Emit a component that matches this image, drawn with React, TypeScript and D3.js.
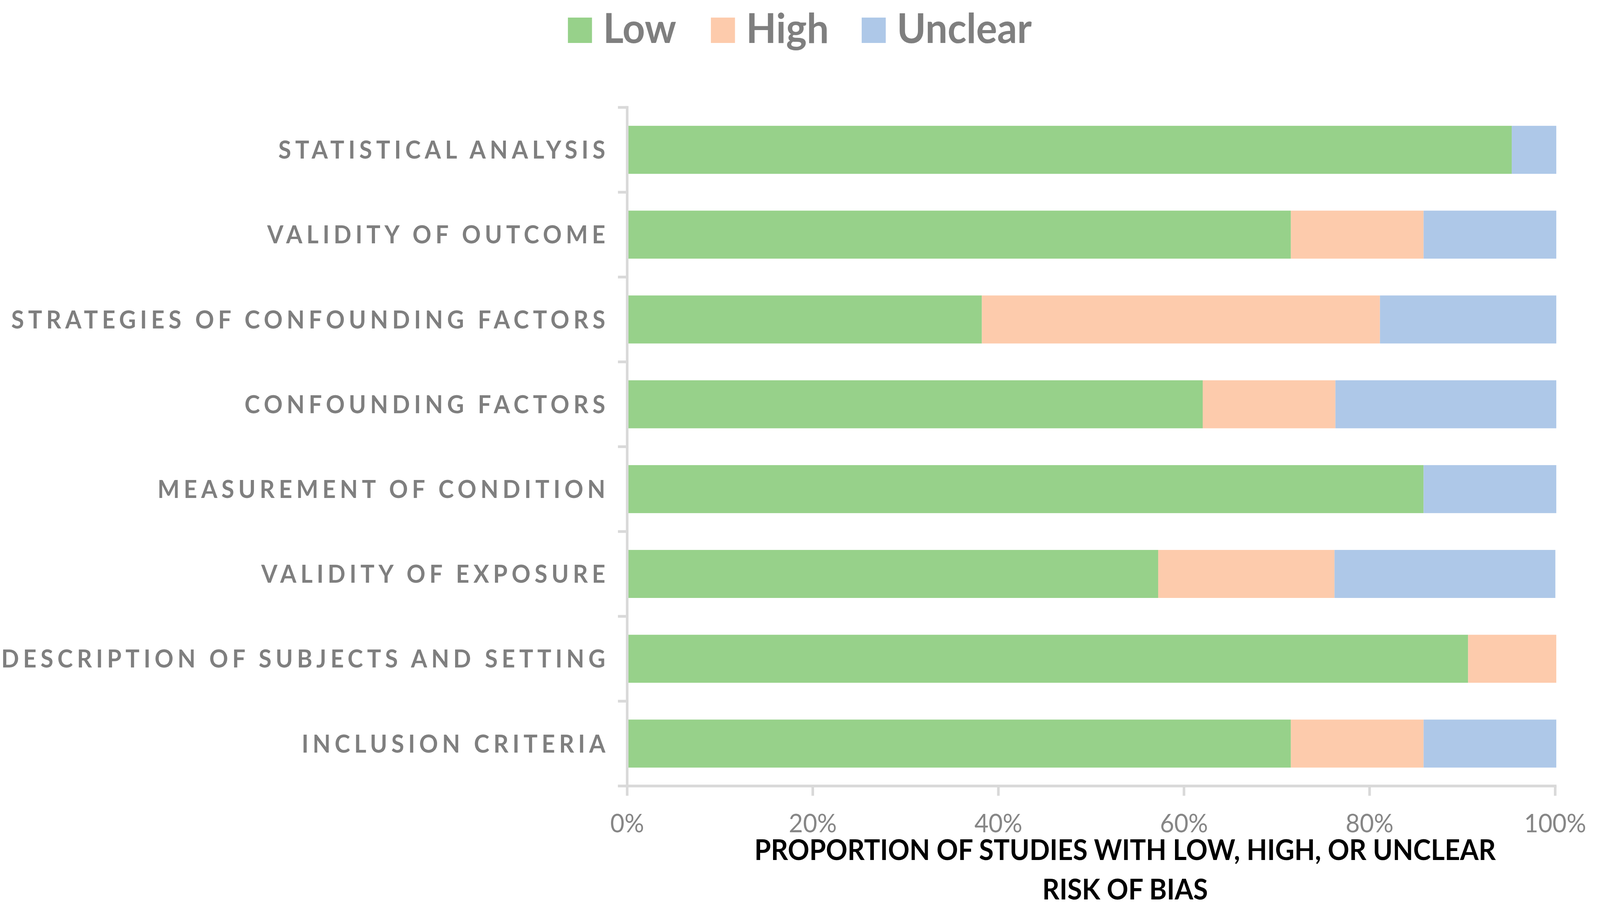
import * as React from 'react';
import * as d3 from 'd3';

const categories = [
    "STATISTICAL ANALYSIS",
    "VALIDITY OF OUTCOME",
    "STRATEGIES OF CONFOUNDING FACTORS",
    "CONFOUNDING FACTORS",
    "MEASUREMENT OF CONDITION",
    "VALIDITY OF EXPOSURE",
    "DESCRIPTION OF SUBJECTS AND SETTING",
    "INCLUSION CRITERIA"
];
// percent of studies per category (top to bottom)
const lowValues = [95.2, 71.4, 38.1, 61.9, 85.7, 57.1, 90.5, 71.4];
const highValues = [0, 14.3, 42.9, 14.3, 0, 19.0, 9.5, 14.3];
const unclearValues = [4.8, 14.3, 19.0, 23.8, 14.3, 23.8, 0, 14.3];
const seriesNames = ["Low", "High", "Unclear"];
const xTicks = [0, 20, 40, 60, 80, 100];
const titleLines = ["PROPORTION OF STUDIES WITH LOW, HIGH, OR UNCLEAR", "RISK OF BIAS"];

const colors = ["#97D18A", "#FDCBAC", "#AEC8E8"];
const gridGray = "#d9d9d9";
const textGray = "#7f7f7f";

// drawing space; the svg is stretched to the window
const W = 4319, H = 2330;

function App() {
    const ref = React.useRef<SVGSVGElement>(null);

    React.useEffect(() => {
        const svg = d3.select(ref.current);
        svg.selectAll("*").remove();

        const left = 1693, right = 4198, top = 275, bottom = 2012.5;

        const table = categories.map((c, i) => ({
            category: c,
            Low: lowValues[i],
            High: highValues[i],
            Unclear: unclearValues[i]
        }));

        const xScale = d3.scaleLinear().domain([0, 100]).range([left, right]);
        const yScale = d3.scaleBand<string>()
            .domain(categories)
            .range([top, bottom])
            .paddingInner(0.434)
            .paddingOuter(0.217);

        const stacked = d3.stack<any>().keys(seriesNames)(table);

        // bars
        const g = svg.append("g");
        stacked.forEach((layer, k) => {
            g.selectAll(".bar-" + k)
                .data(layer)
                .enter()
                .append("rect")
                .attr("x", d => xScale(d[0]) + 3)
                .attr("y", d => yScale(d.data.category) as number)
                .attr("width", d => Math.max(0, xScale(d[1]) - xScale(d[0])))
                .attr("height", yScale.bandwidth())
                .attr("fill", colors[k]);
        });

        // vertical axis line and category ticks
        svg.append("line")
            .attr("x1", left).attr("x2", left)
            .attr("y1", top - 3.5).attr("y2", bottom + 3.5)
            .attr("stroke", gridGray).attr("stroke-width", 7);
        const step = yScale.step();
        const bounds = d3.range(categories.length + 1).map(i => top + i * step);
        svg.selectAll(".ytick")
            .data(bounds)
            .enter()
            .append("line")
            .attr("x1", left - 25).attr("x2", left)
            .attr("y1", d => d).attr("y2", d => d)
            .attr("stroke", gridGray).attr("stroke-width", 7);

        // horizontal axis line and ticks
        svg.append("line")
            .attr("x1", left - 25).attr("x2", right + 3.5)
            .attr("y1", bottom).attr("y2", bottom)
            .attr("stroke", gridGray).attr("stroke-width", 7);
        svg.selectAll(".xtick")
            .data(xTicks)
            .enter()
            .append("line")
            .attr("x1", d => xScale(d)).attr("x2", d => xScale(d))
            .attr("y1", bottom).attr("y2", bottom + 25)
            .attr("stroke", gridGray).attr("stroke-width", 7);
        svg.selectAll(".xlabel")
            .data(xTicks)
            .enter()
            .append("text")
            .attr("x", d => xScale(d))
            .attr("y", 2131)
            .attr("text-anchor", "middle")
            .style("font-family", "Lato")
            .style("font-size", "66px")
            .style("fill", "#868686")
            .text(d => d + "%");

        // category labels
        svg.selectAll(".ylabel")
            .data(categories)
            .enter()
            .append("text")
            .attr("x", 1645)
            .attr("y", d => (yScale(d) as number) + yScale.bandwidth() / 2)
            .attr("dy", "0.36em")
            .attr("text-anchor", "end")
            .style("font-family", "Lato")
            .style("font-weight", "bold")
            .style("font-size", "63px")
            .style("letter-spacing", "11px")
            .style("fill", textGray)
            .text(d => d);

        // axis title
        svg.selectAll(".title")
            .data(titleLines)
            .enter()
            .append("text")
            .attr("x", 3037)
            .attr("y", (d, i) => 2202 + i * 101)
            .attr("text-anchor", "middle")
            .style("font-family", "Lato")
            .style("font-weight", "bold")
            .style("font-size", "72px")
            .style("fill", "#000")
            .text(d => d);

        // legend
        const legendX = [1533, 1919, 2326];
        const legend = svg.selectAll(".legend")
            .data(seriesNames)
            .enter()
            .append("g")
            .attr("transform", (d, i) => "translate(" + legendX[i] + ",0)");
        legend.append("rect")
            .attr("x", 0).attr("y", 45)
            .attr("width", 65).attr("height", 65)
            .attr("fill", (d, i) => colors[i]);
        legend.append("text")
            .attr("x", 95)
            .attr("y", 110)
            .style("font-family", "Lato")
            .style("font-weight", "bold")
            .style("font-size", "106px")
            .style("fill", textGray)
            .text(d => d);
    }, []);

    return (
        <svg ref={ref} viewBox={"0 0 " + W + " " + H} preserveAspectRatio="none"
             style={{position: "absolute", left: 0, top: 0, width: "100vw", height: "100vh", background: "#fff"}}>
        </svg>
    );
}

export default App;
